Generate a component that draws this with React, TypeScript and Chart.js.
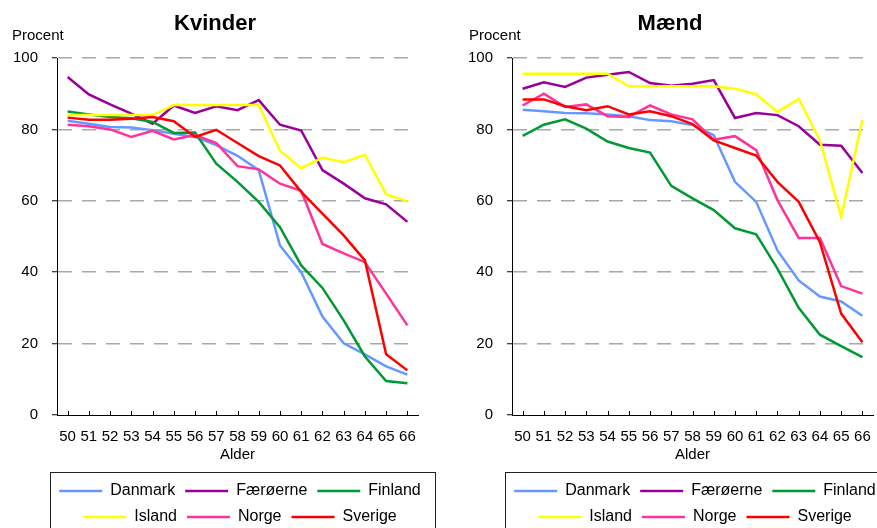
import React, { useEffect, useRef } from "react";
import { Chart, registerables } from "chart.js";

Chart.register(...registerables);

const ages = ["50", "51", "52", "53", "54", "55", "56", "57", "58", "59", "60", "61", "62", "63", "64", "65", "66"];
const seriesNames = ["Danmark", "Færøerne", "Finland", "Island", "Norge", "Sverige"];
const seriesColors = ["#6699FF", "#990099", "#009933", "#FFFF00", "#FF3399", "#FF0000"];
const yTicks = [0, 20, 40, 60, 80, 100];

// Kvinder
const kDanmark = [82.4, 81.6, 80.7, 80.5, 79.8, 78.8, 77.9, 75.6, 72.6, 68.6, 47.5, 40.0, 27.6, 20.1, 17.0, 13.6, 11.3];
const kFaeroerne = [94.7, 89.8, 87.0, 84.4, 81.6, 86.7, 84.6, 86.5, 85.4, 88.2, 81.3, 79.7, 68.6, 64.8, 60.7, 59.0, 54.1];
const kFinland = [85.0, 84.2, 83.5, 83.1, 82.1, 79.0, 79.1, 70.4, 65.3, 59.7, 52.6, 41.9, 35.6, 26.5, 16.4, 9.5, 8.9];
const kIsland = [84.0, 84.0, 84.0, 84.0, 84.0, 86.8, 86.8, 86.8, 86.8, 86.8, 74.0, 69.1, 72.1, 70.8, 72.9, 61.8, 59.9];
const kNorge = [81.3, 80.9, 80.0, 77.9, 79.6, 77.2, 78.4, 76.2, 69.7, 68.8, 64.8, 62.8, 47.9, 45.3, 42.8, 34.0, 25.1];
const kSverige = [83.3, 82.7, 82.7, 83.0, 83.5, 82.3, 77.9, 79.9, 76.2, 72.5, 69.9, 62.5, 56.4, 50.3, 43.3, 17.0, 12.5];

// Mænd
const mDanmark = [85.5, 85.1, 84.6, 84.5, 84.2, 83.7, 82.6, 82.3, 81.2, 78.4, 65.3, 59.7, 46.1, 37.7, 33.2, 31.8, 27.8];
const mFaeroerne = [91.4, 93.2, 91.9, 94.5, 95.3, 96.1, 93.0, 92.2, 92.8, 93.8, 83.2, 84.6, 84.0, 80.9, 75.7, 75.4, 67.8];
const mFinland = [78.2, 81.3, 82.8, 80.2, 76.6, 74.8, 73.5, 64.2, 60.7, 57.4, 52.3, 50.6, 41.0, 30.0, 22.5, 19.3, 16.2];
const mIsland = [95.6, 95.6, 95.6, 95.6, 95.6, 92.1, 92.1, 92.1, 92.1, 92.1, 91.4, 89.8, 84.9, 88.6, 77.0, 55.5, 82.6];
const mNorge = [86.7, 90.0, 86.3, 87.0, 83.7, 83.5, 86.7, 84.2, 82.8, 77.1, 78.1, 74.2, 60.2, 49.6, 49.6, 36.1, 34.0];
const mSverige = [88.4, 88.4, 86.5, 85.4, 86.5, 84.2, 85.1, 83.7, 81.5, 76.9, 74.8, 72.7, 65.3, 59.7, 48.4, 28.4, 20.4];

const kvinderSeries = [kDanmark, kFaeroerne, kFinland, kIsland, kNorge, kSverige];
const maendSeries = [mDanmark, mFaeroerne, mFinland, mIsland, mNorge, mSverige];

const FONT = "'Liberation Sans', Arial, Helvetica, sans-serif";

const panelTextPlugin = {
  id: "panelText",
  afterDraw(chart: any, _args: any, opts: any) {
    const ctx = chart.ctx;
    ctx.save();
    ctx.fillStyle = "#000";
    ctx.textBaseline = "alphabetic";
    ctx.textAlign = "center";
    ctx.font = `bold 22px ${FONT}`;
    ctx.fillText(opts.title, opts.titleX, 29.5);
    ctx.textAlign = "left";
    ctx.font = `15px ${FONT}`;
    ctx.fillText(opts.unit, opts.unitX, 40);
    ctx.restore();
  },
};

const innerTicksPlugin = {
  id: "innerTicks",
  afterDatasetsDraw(chart: any) {
    const x = chart.scales.x;
    const ctx = chart.ctx;
    const bottom = chart.chartArea.bottom;
    ctx.save();
    ctx.strokeStyle = "#000";
    ctx.lineWidth = 1;
    ctx.beginPath();
    for (let i = 0; i < chart.data.labels.length; i++) {
      const px = Math.round(x.getPixelForTick(i)) + 0.5;
      ctx.moveTo(px, bottom);
      ctx.lineTo(px, bottom - 4);
    }
    ctx.stroke();
    ctx.restore();
  },
};

const legendBoxPlugin = {
  id: "legendBox",
  afterLayout(chart: any, _args: any, opts: any) {
    const l = chart.legend;
    if (l) {
      l.left += opts.dx;
      l.right += opts.dx;
    }
  },
  afterDraw(chart: any) {
    const l = chart.legend;
    if (!l || !l.legendHitBoxes || !l.legendHitBoxes.length) return;
    const boxes = l.legendHitBoxes;
    let minL = Infinity;
    let maxR = -Infinity;
    boxes.forEach((b: any) => {
      minL = Math.min(minL, b.left);
      maxR = Math.max(maxR, b.left + b.width);
    });
    const centre = boxes[0].top + boxes[0].height / 2;
    const ctx = chart.ctx;
    ctx.save();
    ctx.strokeStyle = "#222";
    ctx.lineWidth = 1;
    ctx.strokeRect(Math.round(minL - 9) + 0.5, Math.round(centre - 19) + 0.5, Math.round(maxR - minL + 23), 120);
    ctx.restore();
  },
};

function Panel({ title, series, unitX }: { title: string; series: number[][]; unitX: number }) {
  const ref = useRef<HTMLCanvasElement>(null);
  useEffect(() => {
    const chart = new Chart(ref.current as HTMLCanvasElement, {
      type: "line",
      data: {
        labels: ages,
        datasets: seriesNames.map((name, i) => ({
          label: name,
          data: series[i],
          borderColor: seriesColors[i],
          backgroundColor: seriesColors[i],
          borderWidth: 2.5,
          pointRadius: 0,
          pointHoverRadius: 0,
          tension: 0,
          fill: false,
          order: seriesNames.length - i,
        })),
      },
      options: {
        responsive: false,
        animation: false,
        events: [],
        layout: { autoPadding: false, padding: { left: 0, right: 37, top: 58, bottom: 0 } },
        scales: {
          x: {
            type: "category",
            offset: true,
            afterFit: (scale: any) => {
              scale.height = 58;
            },
            grid: { display: true, drawOnChartArea: false, drawTicks: false },
            border: { display: true, color: "#000", width: 1 },
            ticks: { color: "#000", font: { size: 15, family: FONT }, padding: 13, maxRotation: 0, autoSkip: false },
            title: {
              display: true,
              text: "Alder",
              color: "#000",
              font: { size: 15, family: FONT },
              padding: { top: 0, bottom: 9 },
            },
          },
          y: {
            min: 0,
            max: 100,
            afterFit: (scale: any) => {
              scale.width = 57;
            },
            afterBuildTicks: (scale: any) => {
              scale.ticks = yTicks.map((v) => ({ value: v }));
            },
            grid: {
              color: (c: any) => (c.tick && c.tick.value === 0 ? "rgba(0,0,0,0)" : "#a8a8a8"),
              lineWidth: 1.5,
              drawTicks: true,
              tickLength: 5,
              tickColor: "#000",
              tickWidth: 1,
              tickBorderDash: [],
            },
            border: { display: true, color: "#000", width: 1, dash: [14, 10] },
            ticks: { color: "#000", font: { size: 15, family: FONT }, padding: 14 },
          },
        },
        plugins: {
          legend: {
            position: "bottom",
            labels: {
              usePointStyle: true,
              pointStyle: "line",
              pointStyleWidth: 43,
              color: "#000",
              font: { size: 16, family: FONT },
              padding: 10,
              sort: (a: any, b: any) => a.datasetIndex - b.datasetIndex,
            },
          },
          tooltip: { enabled: false },
          title: { display: false },
          panelText: { title, titleX: 215, unit: "Procent", unitX },
          legendBox: { dx: 31 },
        } as any,
      },
      plugins: [panelTextPlugin, innerTicksPlugin, legendBoxPlugin],
    } as any);
    return () => chart.destroy();
  }, []);
  return <canvas ref={ref} width={455} height={535} style={{ display: "block" }} />;
}

export default function App() {
  return (
    <div
      style={{
        position: "fixed",
        left: 0,
        top: 0,
        width: 877,
        height: 528,
        overflow: "hidden",
        background: "#fff",
      }}
    >
      <div style={{ position: "absolute", left: 0, top: 0 }}>
        <Panel title="Kvinder" series={kvinderSeries} unitX={12} />
      </div>
      <div style={{ position: "absolute", left: 455, top: 0 }}>
        <Panel title="Mænd" series={maendSeries} unitX={14} />
      </div>
    </div>
  );
}
